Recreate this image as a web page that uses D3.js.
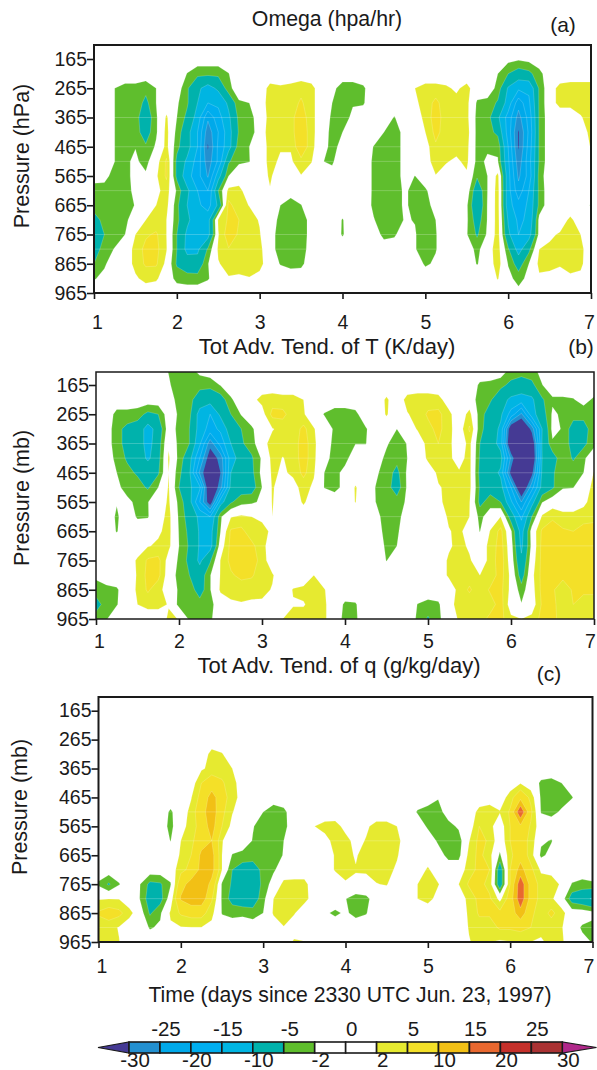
<!DOCTYPE html>
<html><head><meta charset="utf-8">
<script src="https://cdn.jsdelivr.net/npm/d3@7"></script>
<style>html,body{margin:0;background:#fff}svg{display:block}text{font-family:"Liberation Sans",Arial,sans-serif;fill:#1a1a1a}</style>
</head><body><div id="c"></div>
<script>
const gridLevels=[115,165,215,265,315,365,415,465,515,565,615,665,715,765,815,865,915,965];
const tickLevels=[165,265,365,465,565,665,765,865,965];
const dayTicks=[1,2,3,4,5,6,7];
const dayStep=0.125;
const thresholds=[-30,-25,-20,-15,-10,-5,-2,0,2,5,10,15,20,25,30];
const bandColors=["#453a94","#2390d0","#00a9ea","#00aeef","#00b5e2","#00b2ac","#5fbe2d","#ffffff","#ffffff","#e6ea30","#f4e028","#f2c015","#e9682f","#c5302a","#aa3233","#b0288a"];
const legendTop=[-25,-15,-5,0,5,15,25];
const legendBottom=[-30,-20,-10,-2,2,10,20,30];
const faintA=[365,465,515,615,765,815];
const faintB=[365,415,465,515,615,715];
const faintC=[515,615,715,815,915];

// each row (pressure level) lists runs: [first time index, values...]; unlisted cells are 0
const omegaRuns=[
[],
[[40,-1,-1.5,-1]],
[[9,-2.1,-4,-4,-4,-2.1],[39,-2,-5,-7,-6,-3]],
[[2,-2,-3,-3,-4,-2],[9,-4.5,-9,-12,-9,-3],[17,3,2.5,3,4,3],[23,-1,-3.5,-3.5,-2.5],[31,2,3,3,2.5,1.5,3],[39,-3,-10.5,-14,-14,-4.5,.5,3,3.5,3.5,3.5]],
[[2,-2,-3,-3,-6,-2],[8,-1.5,-4.5,-10,-15,-14,-9,-2.5,-2],[17,3.5,3.5,3.5,5.5,3],[23,-2,-4,-2.2,-2.3],[31,1.5,3,6,3,3,3,-2.5,-3,-5.5,-12,-23,-16,-4.5,.5,3,3,3,3]],
[[2,-2,-3,-3.5,-8,-2.5],[7,2.5,-2,-6,-12,-24,-17,-11,-4,-3.5],[17,3,3,4,7,3],[23,-2.5,-3,-1.5,-.5],[29,-2.2],[31,1,2.5,7,3,3,3,-3,-3.5,-9,-17,-27,-18,-4.5],[47,1.8,3]],
[[2,-2,-3,-3.5,-7,-2.5],[7,3,-3,-8,-15,-28,-20,-12,-4.5,-4],[17,3.5,3,3.5,8,3],[23,-3,-2],[28,-2,-3.5,-1],[32,2,6,3.5,3,3.5,-3,-3.5,-6,-17,-30.5,-19,-4.5],[47,.5,2.8]],
[[2,-2,-3,-2.1,-4.5,-1.5],[7,3,-4,-8,-15,-30.5,-19,-12,-3,-2],[17,3,2.3,2.3,8,3],[22,-.5,-3,-1],[27,-2.1,-3.5,-3.5,-1],[32,.5,4.5,3,3,3,-3,-2.5,-2.5,-15,-30.5,-18,-4.5],[48,2.2]],
[[2,-2,-2.5,-1.5,-3],[6,.5,5.5,-6,-11,-17,-28,-19,-5.5,-2.5,-2.1],[17,3,1.5,1.5,4,2.2],[22,-1.9,-2.4],[27,-2.5,-3.5,-3.5,-1],[33,4,2.2,1.5,2.7],[37,-3,-1.5,-1.8,-14,-28,-17,-4.5]],
[[0,-1,-1.2,-3,-3,-1,-1.5],[6,1.5,5.5,-6,-13,-18,-25.5,-12,-2],[17,2.5,0,.5,1.8],[23,-1],[27,-2.5,-3.5,-3.5,-1],[31,-2.05],[33,1.8,1,1,1.5],[37,-4.5,-2,3,-13,-26,-18,-3.5]],
[[0,-3,-3,-3.5,-3.5,-1],[6,1,3.5,-2.5,-9,-15,-20,-5,3,3],[17,1.8],[27,-2.5,-3.5,-3.5,-1.5],[31,-3,-2.5],[37,-8,-2,3.5,-13,-23,-15,-4]],
[[0,-3,-3,-3.5,-3.5,-1.8],[6,2,3,-4,-10,-14,-17,-9,6,3,1.9],[18,-2,-4,-2.1],[27,-2.6,-3.5,-3.5,-1.5],[31,-3,-3,-1],[36,-1.5,-9,-1.8,3.5,-13,-18,-14,-4],[48,-2.3]],
[[0,-7,-3.5,-3,-2.8],[5,2,3,2,-4,-9,-13,-12,2.5,5.5,5,3,1.8],[18,-3,-4,-4,-.5],[24,-2.2],[27,-1.8,-3.5,-3.5,-1.8],[31,-2.1,-3.5,-2],[36,-1.5,-7,-1.8,3.5,-10.5,-16,-14,-1],[45,.5,2.6,.5]],
[[0,-8,-5,-3.5,-2],[4,2,4.5,5.5,2,-5,-11,-14,-12,1.8,7,4.5,3,2.2],[17,-.5,-3.5,-4,-4,-.5],[24,-2.3],[28,-3,-2.5],[31,-1.8,-3.5,-2.2],[36,-1.8,-5.5,-1.5,3.5,-9,-15,-12,-1,1.5,2.3,3,2]],
[[0,-7,-3.5,-1.8],[4,3,6,6,2.2,-5,-11.5,-11,-4.5,2.5,4.8,4,3.5,3],[17,-1,-3,-4,-3.5,-.5],[31,-1.8,-3.5,-2.2],[37,-3,.5,3.5,-4.5,-12,-6,2,2.5,3,3,2.8]],
[[0,-5,-2.5],[4,3,5.5,5.5,1,-5.5,-7.5,-8,-2.2,1.8,3,3,3,3],[18,-2.2,-3,-2.8],[32,-2.5,-1.5],[37,-2.2,0,3.5,-2.2,-7,-2,2.8,3,2.2,3,2.6]],
[[0,-2.3,-1],[4,1.5,3,2.5],[8,-3,-3.5,-3.5,-2.3],[13,1.8,1.6,1.9,1],[39,2.2,-1,-3.2,-1,1.5,1,1.2,1.5,1.3]],
[[41,-1]]
];
const tempRuns=[
[[7,-2.2,-3,-3,-1],[40,-3,-3.5,-3,-1]],
[[7,-1.5,-4,-4,-4,-4,-1.8],[37,-2.5,-2.8,-4,-6,-7,-6,-2.1]],
[[8,-3.5,-4,-7,-8,-7,-2.5],[15,1,3,3.5,3,3,2],[28,2.5],[30,3,3.5,3.5,3,.5],[37,-3.5,-4.5,-8,-11,-12,-11,-5.5,-2.5,-2.5,-2.2,-1,-2.5]],
[[2,-3,-3,-3.5,-6,-5],[8,-2.5,-4,-12,-15,-9,-5,-1.8],[16,.5,6,6,3,2.3],[22,-2.2,-3.5,-3.5,-2.8],[28,2.3],[30,1.8,3,5.5,6,2.8],[36,3,-3.5,-7,-9,-17,-26,-12,-7,-1.5,-2.5,-3.5,-3.5,-2.5]],
[[2,-4,-6,-7,-12,-8],[8,-3,-5,-12,-17,-14,-7,-5,-2.5],[17,1.8,3,3,6,2.2],[23,-2.5,-3.5,-2,-2.3],[29,-2],[31,2.3,4,6,3],[36,5.5,-4,-7,-11,-35,-40,-28,-10,-1,-2.3,-7,-7,-2.5]],
[[2,-4,-6,-7,-12,-7,1.5],[8,-3,-5,-14,-28,-18,-10,-5.5,-3.5],[16,1,3,3,3,7,2.5],[23,-3,-3.5,-2.1,-2.1],[28,-1.5,-4,-1.8],[32,3,5,2.8],[36,3,-5,-7,-12,-38,-42,-36,-9.5,-2.5,-3,-6.5,-6,-2.8]],
[[2,-3,-5.5,-6.5,-11,-6.5,2.5,-3,-8,-20,-34,-28,-12,-8,-5.5,-1.5,3,1.9,2.8,7,2.5],[22,-.5,-3.5,-3],[28,-3,-4,-2],[32,2.5,3,2.5,1,3,-5.5,-7,-8,-26,-42,-38,-10,-7,-2.5,-5.5,-2.5]],
[[2,-2,-4,-5.5,-6,-5.5,2,-4,-9,-26,-38,-30,-10,-8,-6,-1,2.5,1.6,2.5,6,2.3],[22,-2,-3,-1],[27,-1.5,-3.5,-6,-1.5],[32,.5,2.5,2.8,2.3,3,-6,-7,-11,-32,-42,-32,-9,-5.5,-2.8,-3,-2,2.2]],
[[2,-1,-3.5,-3.5,-5.5,-2,2.3,-5,-9,-14,-38,-27,-8.5,-7,-7,-2,2.3,.5,1,3,1.5,-2.1,-3,-1,2.3],[27,-2.2,-3.5,-7,-1.5],[33,1.8,2.5,2.2,3,-5.5,-6.5,-8,-20,-38,-22,-8,-5.5,-2.2,-2.1,.5,2.8]],
[[2,-1.8,-1,-3,-2.1,0,2.5,-3,-8,-20,-34,-12,-5.5,-3,-2.5,-1.5,2.2],[20,2.5],[25,2.1],[27,-2.1,-3.5,-3.5,-1.5],[33,1.5,2.8,2.5,2.2,-6,-3.5,-5,-14,-25,-12,-2.2],[47,1.5,3]],
[[2,-2.5],[4,-2.4,-2.2],[6,.5,3,-2.5,-7,-11,-15,-2.5,1.8,2.5,2,1.5,2],[27,-1,-3.5,-3,-.5],[34,2.5,3,2,-3,0,2,-7,-16,-5,2.5,4.5,3,3,3,3]],
[[2,-2.2],[6,1.5,3,-2.2,-6,-10.5,-12,-2,5.5,6,3,2.8,1.5],[28,-3.5,-2.5],[34,1.8,2.7,.5,-2.1,2.2,6,-1.5,-12,-.5,5.5,6.5,5.5,5,7,8]],
[[5,1.8,2.5,2.8,-2,-5.5,-10.5,-12,0,6,7,6,2.8,.5],[28,-2.6,-2],[34,1.5,3,1.5,0,3,6.5,-.5,-11,-1,6,7,7,7,7,7]],
[[4,2.5,5.5,6,.5,-2.5,-6,-11,-5.5,2.2,6,7,7,3.5],[28,-2.1],[34,2.5,2.8,2.4,0,3,7,0,-9,0,6,7,6.5,6.5,6.5,6.5]],
[[0,-1.5],[4,2.3,6,6,0,-3,-5,-7.5,-2.2,2.2,4.5,6,5.5,3,2.3],[21,2],[34,2.5,3,3.5,2,3,6.5,1,-7,1,6,6,6,6,6,6]],
[[0,-3,-3,-2.4],[4,2.5,5.5,3,.5,-2.5,-3,-7,-2.2,2.5,3,3,3,2.8,1.8],[19,2.2,2.7,3.5,2.2],[35,3,5.5,2.8,5.5,6,1,-3.5,.5,6,5.5,3,5.5,6,6]],
[[0,-7,-3,-2.2],[4,2,3,3,1.8,-3,-3.5,-3.5,-3,0,1.5,1.8,1.5,1.5,1.4],[19,1.8,1.8,3,2.5],[24,-2.5,-2.3],[31,-2.1,-3,-2.5,1,3,3,2,3.5,6.5,0,-1.8,0,5.5,6,3,5,3,3]],
[[0,-3,-2.2],[7,2.5,1.9,-2.5,-3,-2.5],[18,2,3,3,3,2.5],[24,-3,-2.5],[31,-2.5,-5.5,-2.5,-.5,2.5,3,3.5,6,6,2.8,2,3,6,6,3.5,3,2.5,3]]
];
const moistRuns=[
[],[],[],[],
[[11,3,2.2]],
[[10,1.5,3,3.5,2]],
[[10,5,7.5,5.5,3,.5],[41,1.8],[43,-2.5,-3,-2]],
[[9,1.8,6.5,12,7,3,1],[33,-1.8],[40,3.5,8.5,4],[43,-2.5,-4,-3.5,-2.2]],
[[7,-2.5],[9,3,8,13,6,2.2],[16,-2,-4,-2.8],[31,-2.3,-3.5,-3.2,-.5],[37,3,4,2.2,5.5,19.5,6],[43,-2.2,-3,-1.5]],
[[7,-3],[8,1,3,7,12,5,1],[15,-1.8,-3.5,-4,-3],[21,2,3,3.2,1],[26,1.5,3,3,2],[32,-2.5,-3.5,-3,-1.5],[37,5,3,0,5,9,4.5]],
[[7,-2.1],[8,2,4,8,10,2.2],[15,-2.2,-3.5,-3.5,-2],[22,1,3,3,1,2.2,3.5,3.5,3],[33,-2.5,-3.5,-3.5,1.8,6,4.5,-.5,5,7,4,-1.5,-2.2]],
[[8,2.4,5,11,12,2,-2.2,-3,-3.5,-3.5,-3.5,-1.8],[23,2.3,3,1.7,3.3,3.5,3.5,2.3],[33,-.5,-3,-3,3,6,3,-2.5,4,8,3.5,-2.7,-1]],
[[8,4,6,11.5,12,2,-5,-7,-7,-4,-2.5],[23,2.3,2.6,2.2,2.2,3,3,1.5],[32,2.5],[36,3.5,6,5,-8,5,12,6,1.5,1]],
[[0,-2.5,-5.5,-2.2],[4,-1.8,-6,-5.5,-2.3,8,12,14,8.5,-2.5,-5.5,-8,-8,-4,-.5,2.8,3,3],[24,1.8,1.3,1.5,1.9,2.2],[31,2,3.5,2.2],[35,2,5.5,6,4,-8,5,18.5,8,3.5,3.5,1.5,-2.2,-3,-2.5]],
[[0,1.7,1.9,1.8],[4,-2,-7,-6.5,0,10.5,13,13,5.5,-2.5,-6.5,-8,-7.5,-3,2,3,3,3,.5],[24,-1.9,-3.5,-3],[31,2,3,1],[36,3,6,5.5,1,7,18.5,8,3.5,2.5],[46,-7,-8.5,-10.5]],
[[0,5.5,7,6,3],[5,-5.5,-2.5],[7,2.5,5.5,6.5,6.5,3,-2.2,-3,-2.7,-3.5,-2,2.4,3,2.3],[22,-1.5,-2.6,-1.5,-3,-2.2],[36,2.5,5.5,5.5,6,7,13,6,3,6,3],[48,-1]],
[[0,3,3,1.8],[5,-2.3,-1.5,1.5,1.8,1.9,1.9,1],[18,1.9],[36,2.2,3.5,3.5,5.5,5.5,6,5,3,3,2.2],[47,-2.5,-3]],
[[0,2.5,2.5,2.1],[19,2.5,2.1],[36,1.8,3,2,1.5,1.8,2.5,2,1.5,3,2.5],[47,-1,-2.2]]
];

const W=597,H=1070,nCols=49,nRows=gridLevels.length;
const svg=d3.select("#c").append("svg").attr("width",W).attr("height",H);
function expand(runs){const g=new Array(nCols*nRows).fill(0);
  runs.forEach((row,r)=>row.forEach(([s,...vals])=>vals.forEach((v,i)=>{g[r*nCols+s+i]=v;})));return g;}
const tickFont=19.5,titleFont=21.5;
function panel(id,runs,box,ylab,ylabX,ylabY,faint){
  const x=d3.scaleLinear([1,7],[box.x0,box.x1]);
  const y=d3.scaleLinear([165,965],[box.y165,box.y965]);
  const g=svg.append("g");
  svg.append("clipPath").attr("id",id).append("rect").attr("x",box.x0).attr("y",box.top).attr("width",box.x1-box.x0).attr("height",box.y965-box.top);
  const body=g.append("g").attr("clip-path",`url(#${id})`);
  body.append("rect").attr("x",box.x0).attr("y",box.top).attr("width",box.x1-box.x0).attr("height",box.y965-box.top).attr("fill",bandColors[0]);
  const tr=d3.geoTransform({point(px,py){this.stream.point(x(1+(px-.5)*dayStep),y(gridLevels[0]+(py-.5)*50));}});
  const path=d3.geoPath(tr);
  const cs=d3.contours().size([nCols,nRows]).thresholds(thresholds)(expand(runs));
  body.selectAll("path").data(cs).join("path").attr("d",path)
    .attr("fill",(d,i)=>bandColors[i+1]).attr("stroke",(d,i)=>(i===0||i===7)?"none":"#ffffff").attr("stroke-opacity",.3).attr("stroke-width",.6);
  body.selectAll("line.faint").data(faint).join("line").attr("class","faint").attr("x1",box.x0).attr("x2",box.x1).attr("y1",d=>y(d)).attr("y2",d=>y(d)).attr("stroke","#fff").attr("stroke-opacity",.22).attr("stroke-width",1);
  g.append("rect").attr("x",box.x0).attr("y",box.top).attr("width",box.x1-box.x0).attr("height",box.y965-box.top).attr("fill","none").attr("stroke","#1a1a1a").attr("stroke-width",box.sw);
  const ax=g.append("g").attr("transform",`translate(0,${box.y965})`).call(d3.axisBottom(x).tickValues(dayTicks).tickFormat(d3.format("d")).tickSize(6).tickPadding(box.pad));
  const ay=g.append("g").attr("transform",`translate(${box.x0},0)`).call(d3.axisLeft(y).tickValues(tickLevels).tickFormat(d3.format("d")).tickSize(7).tickPadding(0));
  [ax,ay].forEach(a=>{a.select(".domain").remove();a.selectAll("line").attr("stroke","#1a1a1a").attr("stroke-width",1.6);a.selectAll("text").attr("font-size",tickFont).attr("font-family",'"Liberation Sans"').attr("fill","#1a1a1a");});
  ax.selectAll("text").attr("dx",d=>d===1?3:d===7?-box.lastShift:0);
  svg.append("text").attr("transform",`translate(${ylabX},${ylabY}) rotate(-90)`).attr("text-anchor","middle").attr("dominant-baseline","middle").attr("font-size",titleFont).text(ylab);
}
panel("pa",omegaRuns,{x0:94,x1:591,top:45,y165:59,y965:293,sw:2,pad:16,lastShift:2},"Pressure (hPa)",23,156,faintA);
panel("pb",tempRuns,{x0:96,x1:594,top:372,y165:385,y965:619,sw:1.5,pad:9.5,lastShift:4},"Pressure (mb)",23,498,faintB);
panel("pc",moistRuns,{x0:98.5,x1:592.5,top:697,y165:710.7,y965:942,sw:2,pad:11,lastShift:4},"Pressure (mb)",21,807,faintC);

const labels=[["Omega (hpa/hr)",327,20,21.3],["(a)",563,26,21],["Tot Adv. Tend. of T (K/day)",327,348,22],["(b)",581,348,21],
["Tot Adv. Tend. of q (g/kg/day)",339,667.5,22],["(c)",549,675,21],["Time (days since 2330 UTC Jun. 23, 1997)",350,996,21.2]];
svg.selectAll("text.lab").data(labels).join("text").attr("class","lab").attr("x",d=>d[1]).attr("y",d=>d[2]).attr("text-anchor","middle").attr("dominant-baseline","middle").attr("font-size",d=>d[3]).text(d=>d[0]);

// colour bar
const lx=d3.scalePoint().domain(thresholds).range([129,562.3]);
const ly0=1042,ly1=1053;
const boxes=thresholds.slice(0,-1);
const lg=svg.append("g");
lg.append("path").attr("d",`M98,${(ly0+ly1)/2}L129,${ly0}V${ly1}Z`).attr("fill",bandColors[0]).attr("stroke","#1a1a1a").attr("stroke-width",1.2);
lg.append("path").attr("d",`M596.5,${(ly0+ly1)/2}L562.3,${ly0}V${ly1}Z`).attr("fill",bandColors[15]).attr("stroke","#1a1a1a").attr("stroke-width",1.2);
lg.selectAll("rect").data(boxes).join("rect").attr("x",d=>lx(d)).attr("y",ly0).attr("width",lx.step()).attr("height",ly1-ly0)
  .attr("fill",(d,i)=>bandColors[i+1]).attr("stroke","#1a1a1a").attr("stroke-width",1.6);
lg.selectAll("text.t").data(legendTop).join("text").attr("class","t").attr("x",d=>lx(d)+6).attr("y",1031).attr("text-anchor","middle").attr("dominant-baseline","middle").attr("font-size",20.5).text(d=>d);
lg.selectAll("text.b").data(legendBottom).join("text").attr("class","b").attr("x",d=>lx(d)+6).attr("y",1062).attr("text-anchor","middle").attr("dominant-baseline","middle").attr("font-size",20.5).text(d=>d);
</script></body></html>
